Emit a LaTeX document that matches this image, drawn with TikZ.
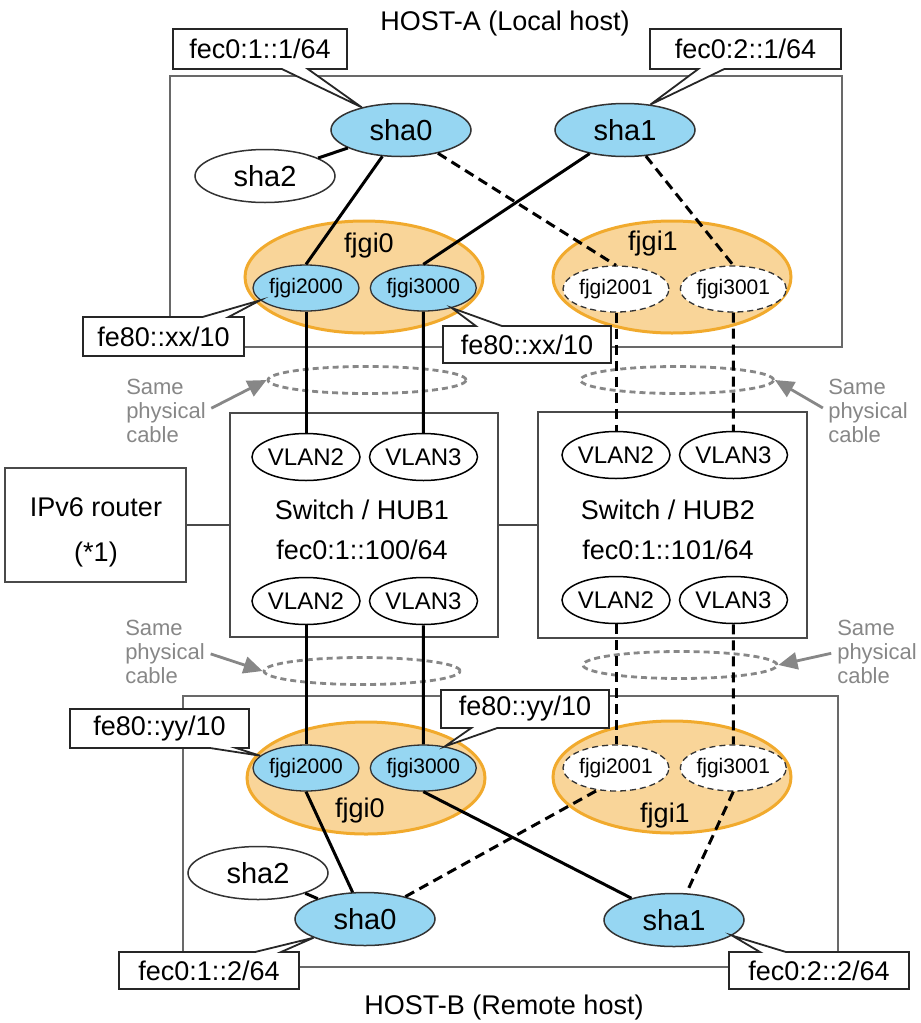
\documentclass[tikz,border=0pt]{standalone}
\usepackage{fontspec}
\setmainfont{Liberation Sans}
\usetikzlibrary{arrows.meta, positioning, shapes.geometric, shapes.callouts}
\definecolor{ifblue}{RGB}{150,214,242}
\definecolor{bondfill}{RGB}{249,213,153}
\definecolor{bondline}{RGB}{241,170,45}
\definecolor{hostgray}{RGB}{105,105,105}
\definecolor{notegray}{RGB}{135,135,135}
\newcommand\fsz[1]{\fontsize{#1}{#1}\selectfont}

\begin{document}
\begin{tikzpicture}[
      x=1pt, y=-1pt,
      >={Triangle[length=19pt,width=17pt]},
      every node/.append style={font=\fsz{27}, inner sep=0pt},
      hostbox/.style={rectangle, draw=hostgray, line width=2.8pt},
      hubbox/.style={rectangle, draw=hostgray!70!black, line width=2pt, fill=white},
      bond/.style={ellipse, draw=bondline, line width=3pt, fill=bondfill,
                   minimum width=238pt, minimum height=112pt},
      sha/.style={ellipse, draw=black!80, line width=1.5pt, fill=white,
                  minimum width=140pt, minimum height=53pt, font=\fsz{29}},
      shaon/.style={sha, fill=ifblue},
      ifc/.style={ellipse, draw=black!80, line width=1.3pt,
                  minimum width=106pt, minimum height=46pt, font=\fsz{21}},
      ifon/.style={ifc, fill=ifblue},
      ifoff/.style={ifc, fill=white, dash pattern=on 6pt off 4pt},
      vlan/.style={ellipse, draw, line width=1.5pt, fill=white,
                   minimum width=108pt, minimum height=47pt, font=\fsz{24}},
      addr/.style={rectangle callout, draw=black!85, line width=1.8pt, fill=white,
                   callout pointer width=26pt},
      cable/.style={ellipse, draw=notegray, line width=2.8pt,
                    dash pattern=on 6pt off 4pt, minimum height=27pt},
      note/.style={text=notegray, align=left, font=\fontsize{22}{24}\selectfont},
      pointer/.style={->, draw=notegray, line width=2.8pt, shorten <=6pt},
      wire/.style={line width=3pt},
      vwire/.style={line width=3pt, dash pattern=on 10pt off 6pt},
      trunk/.style={draw=hostgray!70!black, line width=2pt},
    ]
      \useasboundingbox (0,0) rectangle (921,1023);

      \node[hostbox, minimum width=672pt, minimum height=271pt] (hostA) at (506,211.5) {};
      \node[hostbox, minimum width=655pt, minimum height=271pt] (hostB) at (510.5,831.5) {};
      \node (hostAlbl) at (505,24) {HOST-A (Local host)};
      \node (hostBlbl) at (504,1007) {HOST-B (Remote host)};

      \node[bond] (fjgiA0) at (364,277) {};
      \node[bond] (fjgiA1) at (672,277) {};
      \node[bond] (fjgiB0) at (366,778) {};
      \node[bond] (fjgiB1) at (672,777) {};
      \node (fjgiA0lbl) at (369,246) {fjgi0};
      \node (fjgiA1lbl) at (653,244) {fjgi1};
      \node (fjgiB0lbl) at (360,811) {fjgi0};
      \node (fjgiB1lbl) at (665,816) {fjgi1};

      \node[ifon] (fjgiA2000) at (306,288) {fjgi2000};
      \node[ifon, right=10pt of fjgiA2000] (fjgiA3000) {fjgi3000};
      \node[ifoff] (fjgiA2001) at (616,289) {fjgi2001};
      \node[ifoff, right=10pt of fjgiA2001] (fjgiA3001) {fjgi3001};
      \node[ifon] (fjgiB2000) at (306,768) {fjgi2000};
      \node[ifon, right=10pt of fjgiB2000] (fjgiB3000) {fjgi3000};
      \node[ifoff] (fjgiB2001) at (616,768) {fjgi2001};
      \node[ifoff, right=10pt of fjgiB2001] (fjgiB3001) {fjgi3001};

      \node[shaon] (sha0A) at (401,130) {sha0};
      \node[sha] (sha2A) at (265,176) {sha2};
      \node[shaon] (sha1A) at (625,130) {sha1};
      \node[sha] (sha2B) at (258,873) {sha2};
      \node[shaon] (sha0B) at (365,919) {sha0};
      \node[shaon] (sha1B) at (674,920) {sha1};

      \node[hubbox, minimum width=181pt, minimum height=114pt] (router) at (95.5,525) {};
      \node[align=center, font=\fontsize{27}{45}\selectfont] (routerlbl) at (96,532) {IPv6 router\\(*1)};
      \node[hubbox, minimum width=268pt, minimum height=224pt] (hub1) at (364,525) {};
      \node[hubbox, minimum width=269pt, minimum height=226pt] (hub2) at (672.5,525) {};
      \node[align=center, font=\fontsize{27}{40}\selectfont] (hub1lbl) at (362,530) {Switch / HUB1\\fec0:1::100/64};
      \node[align=center, font=\fontsize{27}{40}\selectfont] (hub2lbl) at (668,530) {Switch / HUB2\\fec0:1::101/64};

      \node[vlan] (hub1v2t) at (306,457) {VLAN2};
      \node[vlan, right=8pt of hub1v2t] (hub1v3t) {VLAN3};
      \node[vlan] (hub1v2b) at (306,601) {VLAN2};
      \node[vlan, right=8pt of hub1v2b] (hub1v3b) {VLAN3};
      \node[vlan] (hub2v2t) at (616,455) {VLAN2};
      \node[vlan, right=8pt of hub2v2t] (hub2v3t) {VLAN3};
      \node[vlan] (hub2v2b) at (616,600) {VLAN2};
      \node[vlan, right=8pt of hub2v2b] (hub2v3b) {VLAN3};

      \node[cable, minimum width=198pt] (cabA1) at (367,380) {};
      \node[cable, minimum width=193pt] (cabA2) at (677,380) {};
      \node[cable, minimum width=196pt] (cabB1) at (362,671) {};
      \node[cable, minimum width=194pt] (cabB2) at (680,665) {};
      \node[note] (noteA1) at (166,411) {Same\\physical\\cable};
      \node[note] (noteA2) at (868,411) {Same\\physical\\cable};
      \node[note] (noteB1) at (165,652) {Same\\physical\\cable};
      \node[note] (noteB2) at (877,652) {Same\\physical\\cable};
      \draw[pointer] (noteA1.east) -- (cabA1.west);
      \draw[pointer] (noteA2.west) -- (cabA2.east);
      \draw[pointer] (noteB1.east) -- (cabB1.west);
      \draw[pointer] (noteB2.west) -- (cabB2.east);

      \node[addr, minimum width=174pt, minimum height=40pt,
            callout absolute pointer={(sha0A.150)}] (addrA0) at (260,49) {fec0:1::1/64};
      \node[addr, minimum width=191pt, minimum height=40pt,
            callout absolute pointer={(sha1A.45)}] (addrA1) at (745.5,49) {fec0:2::1/64};
      \node[addr, minimum width=161pt, minimum height=39pt,
            callout absolute pointer={(fjgiA2000.195)}] (llA2000) at (163.5,336.5) {fe80::xx/10};
      \node[addr, minimum width=168pt, minimum height=37pt,
            callout absolute pointer={(fjgiA3000.325)}] (llA3000) at (527,344.5) {fe80::xx/10};
      \node[addr, minimum width=179pt, minimum height=39pt,
            callout absolute pointer={(fjgiB2000.165)}] (llB2000) at (159.5,728.5) {fe80::yy/10};
      \node[addr, minimum width=168pt, minimum height=38pt,
            callout absolute pointer={(fjgiB3000.45)}] (llB3000) at (525,709) {fe80::yy/10};
      \node[addr, minimum width=180pt, minimum height=37pt,
            callout absolute pointer={(sha0B.200)}] (addrB0) at (209,970.5) {fec0:1::2/64};
      \node[addr, minimum width=180pt, minimum height=37pt,
            callout absolute pointer={(sha1B.345)}] (addrB1) at (819,970.5) {fec0:2::2/64};

      \draw[trunk] (router) -- (hub1);
      \draw[trunk] (hub1) -- (hub2);
      \draw[wire] (sha0A) -- (sha2A);
      \draw[wire] (sha0A) -- (fjgiA2000.north);
      \draw[vwire] (sha0A) -- (fjgiA2001.north);
      \draw[wire] (sha1A) -- (fjgiA3000.north);
      \draw[vwire] (sha1A) -- (fjgiA3001.north);
      \draw[wire] (fjgiA2000) -- (hub1v2t);
      \draw[wire] (fjgiA3000) -- (hub1v3t);
      \draw[vwire] (fjgiA2001) -- (hub2v2t);
      \draw[vwire] (fjgiA3001) -- (hub2v3t);
      \draw[wire] (hub1v2b) -- (fjgiB2000);
      \draw[wire] (hub1v3b) -- (fjgiB3000);
      \draw[vwire] (hub2v2b) -- (fjgiB2001);
      \draw[vwire] (hub2v3b) -- (fjgiB3001);
      \draw[wire] (fjgiB2000.south) -- (sha0B);
      \draw[wire] (fjgiB3000.south) -- (sha1B);
      \draw[vwire] (sha0B) -- (fjgiB2001.230);
      \draw[vwire] (fjgiB3001.south) -- (sha1B);
      \draw[wire] (sha0B) -- (sha2B);
    \end{tikzpicture}
\end{document}
